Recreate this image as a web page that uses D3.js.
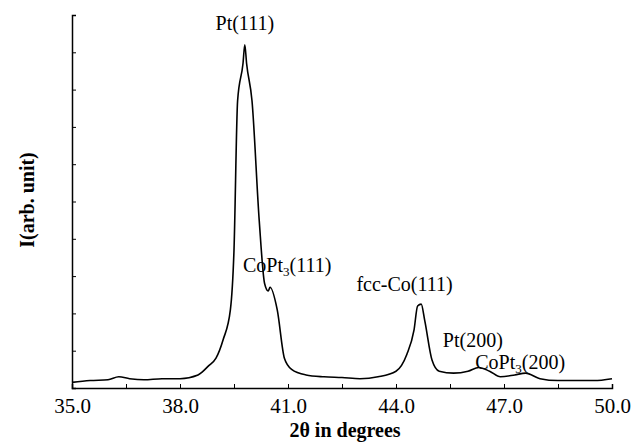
<!DOCTYPE html>
<html><head><meta charset="utf-8">
<script src="https://cdn.jsdelivr.net/npm/d3@7"></script>
<style>body{margin:0;background:#fff}text{font-family:"Liberation Serif",serif}</style>
</head><body><svg id="c" width="637" height="442"></svg>
<script>
var angle = [35.0,35.5,36.0,36.3,36.6,37.0,37.5,38.0,38.5,38.8,39.0,39.2,39.4,39.5,39.6,39.75,39.8,39.85,40.0,40.2,40.35,40.45,40.5,40.7,40.9,41.1,41.5,42.0,42.5,43.0,43.5,44.0,44.3,44.5,44.6,44.7,44.8,45.0,45.2,45.6,46.0,46.3,46.6,46.9,47.3,47.6,48.0,48.5,49.0,49.5,50.0];
var intensity = [0.15,0.2,0.22,0.3,0.25,0.22,0.25,0.25,0.35,0.6,0.8,1.3,2.1,3.7,7.7,8.7,9.2,8.7,7.7,4.5,2.8,2.6,2.7,2.1,0.8,0.5,0.35,0.3,0.28,0.25,0.3,0.45,0.9,1.55,2.2,2.25,1.8,0.75,0.45,0.4,0.45,0.55,0.45,0.3,0.35,0.4,0.25,0.2,0.2,0.2,0.25];
var xTicks = [35.0,38.0,41.0,44.0,47.0,50.0];
var labels = [
  {t:"Pt(111)", x:39.8, y:9.6, a:"middle"},
  {t:"CoPt", s:"3", r:"(111)", x:39.75, y:3.1, a:"start"},
  {t:"fcc-Co(111)", x:42.9, y:2.6, a:"start"},
  {t:"Pt(200)", x:45.3, y:1.1, a:"start"},
  {t:"CoPt", s:"3", r:"(200)", x:46.2, y:0.5, a:"start"}
];
var svg = d3.select("#c");
var x = d3.scaleLinear().domain([35,50]).range([72,612]);
var y = d3.scaleLinear().domain([0,10]).range([388,15]);
var ax = svg.append("g").attr("transform","translate(0,388)")
  .call(d3.axisBottom(x).tickValues(d3.range(35,50.01,1.5)).tickSize(-4).tickFormat(function(d){return xTicks.indexOf(d)>=0?d3.format(".1f")(d):"";}));
ax.select(".domain").attr("stroke-width",1.5);
ax.selectAll("text").attr("font-size",21).attr("dy","1.05em").attr("fill","#000");
var ay = svg.append("g").attr("transform","translate(72,0)")
  .call(d3.axisLeft(y).ticks(10).tickSize(-4).tickFormat(""));
ay.select(".domain").attr("stroke-width",1.5);
svg.append("path").datum(d3.range(angle.length))
  .attr("fill","none").attr("stroke","#000").attr("stroke-width",1.6)
  .attr("d", d3.line().x(function(i){return x(angle[i]);}).y(function(i){return y(intensity[i]);}).curve(d3.curveMonotoneX));
labels.forEach(function(l){
  var t = svg.append("text").attr("x",x(l.x)).attr("y",y(l.y)).attr("text-anchor",l.a).attr("font-size",20).text(l.t);
  if(l.s){ t.append("tspan").attr("font-size",13).attr("dy",4).text(l.s); t.append("tspan").attr("dy",-4).text(l.r); }
});
svg.append("text").attr("x",345).attr("y",437).attr("text-anchor","middle").attr("font-size",20).attr("font-weight","bold").text("2θ  in degrees");
svg.append("text").attr("transform","translate(34,200) rotate(-90)").attr("text-anchor","middle").attr("font-size",20).attr("font-weight","bold").text("I(arb. unit)");
</script></body></html>
